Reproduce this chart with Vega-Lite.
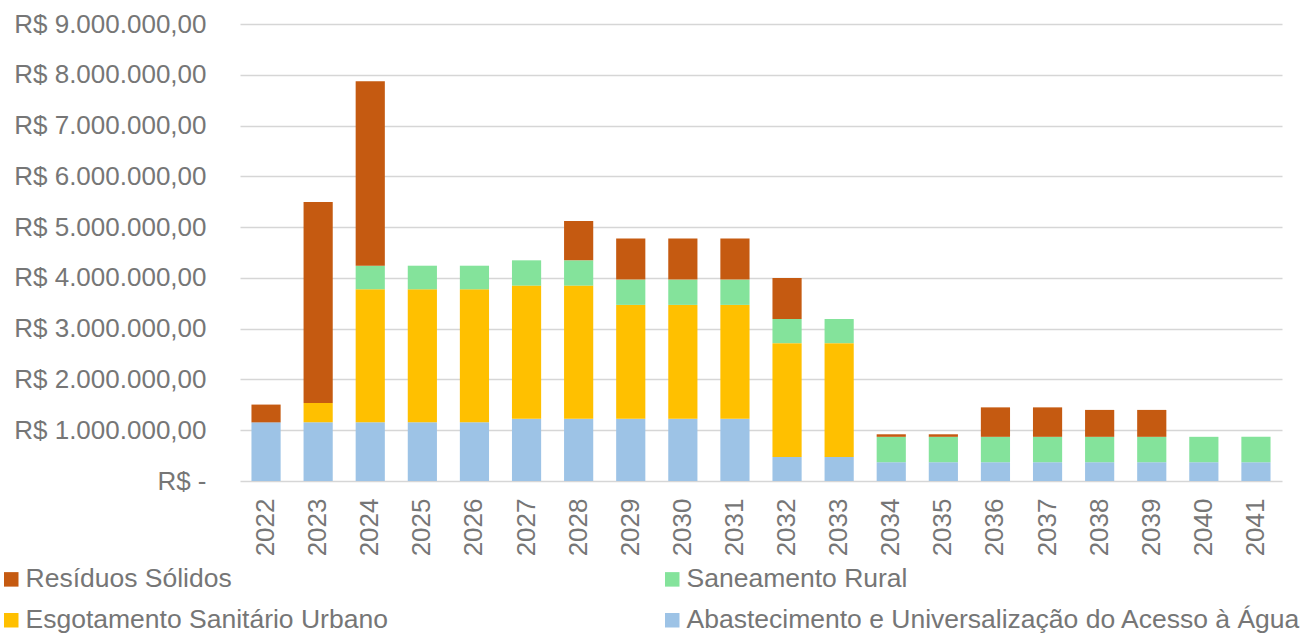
{
  "$schema": "https://vega.github.io/schema/vega-lite/v6.json",
  "width": 1042,
  "height": 457,
  "autosize": {"type": "none"},
  "padding": {"left": 240, "top": 24, "right": 24, "bottom": 152},
  "config": {
    "locale": {"number": {"decimal": ",", "thousands": ".", "grouping": [3], "currency": ["R$ ", ""]}},
    "view": {"stroke": null},
    "font": "Liberation Sans"
  },
  "data": {
    "values": [
      {"ano": "2022", "eixo": "Abastecimento e Universalização do Acesso à Água", "valor": 1155000},
      {"ano": "2022", "eixo": "Resíduos Sólidos", "valor": 350000},
      {"ano": "2023", "eixo": "Abastecimento e Universalização do Acesso à Água", "valor": 1155000},
      {"ano": "2023", "eixo": "Esgotamento Sanitário Urbano", "valor": 380000},
      {"ano": "2023", "eixo": "Resíduos Sólidos", "valor": 3960000},
      {"ano": "2024", "eixo": "Abastecimento e Universalização do Acesso à Água", "valor": 1155000},
      {"ano": "2024", "eixo": "Esgotamento Sanitário Urbano", "valor": 2620000},
      {"ano": "2024", "eixo": "Saneamento Rural", "valor": 465000},
      {"ano": "2024", "eixo": "Resíduos Sólidos", "valor": 3634000},
      {"ano": "2025", "eixo": "Abastecimento e Universalização do Acesso à Água", "valor": 1155000},
      {"ano": "2025", "eixo": "Esgotamento Sanitário Urbano", "valor": 2620000},
      {"ano": "2025", "eixo": "Saneamento Rural", "valor": 465000},
      {"ano": "2026", "eixo": "Abastecimento e Universalização do Acesso à Água", "valor": 1155000},
      {"ano": "2026", "eixo": "Esgotamento Sanitário Urbano", "valor": 2620000},
      {"ano": "2026", "eixo": "Saneamento Rural", "valor": 465000},
      {"ano": "2027", "eixo": "Abastecimento e Universalização do Acesso à Água", "valor": 1228000},
      {"ano": "2027", "eixo": "Esgotamento Sanitário Urbano", "valor": 2620000},
      {"ano": "2027", "eixo": "Saneamento Rural", "valor": 498000},
      {"ano": "2028", "eixo": "Abastecimento e Universalização do Acesso à Água", "valor": 1228000},
      {"ano": "2028", "eixo": "Esgotamento Sanitário Urbano", "valor": 2620000},
      {"ano": "2028", "eixo": "Saneamento Rural", "valor": 498000},
      {"ano": "2028", "eixo": "Resíduos Sólidos", "valor": 775000},
      {"ano": "2029", "eixo": "Abastecimento e Universalização do Acesso à Água", "valor": 1228000},
      {"ano": "2029", "eixo": "Esgotamento Sanitário Urbano", "valor": 2240000},
      {"ano": "2029", "eixo": "Saneamento Rural", "valor": 498000},
      {"ano": "2029", "eixo": "Resíduos Sólidos", "valor": 810000},
      {"ano": "2030", "eixo": "Abastecimento e Universalização do Acesso à Água", "valor": 1228000},
      {"ano": "2030", "eixo": "Esgotamento Sanitário Urbano", "valor": 2240000},
      {"ano": "2030", "eixo": "Saneamento Rural", "valor": 498000},
      {"ano": "2030", "eixo": "Resíduos Sólidos", "valor": 810000},
      {"ano": "2031", "eixo": "Abastecimento e Universalização do Acesso à Água", "valor": 1228000},
      {"ano": "2031", "eixo": "Esgotamento Sanitário Urbano", "valor": 2240000},
      {"ano": "2031", "eixo": "Saneamento Rural", "valor": 498000},
      {"ano": "2031", "eixo": "Resíduos Sólidos", "valor": 810000},
      {"ano": "2032", "eixo": "Abastecimento e Universalização do Acesso à Água", "valor": 475000},
      {"ano": "2032", "eixo": "Esgotamento Sanitário Urbano", "valor": 2240000},
      {"ano": "2032", "eixo": "Saneamento Rural", "valor": 475000},
      {"ano": "2032", "eixo": "Resíduos Sólidos", "valor": 810000},
      {"ano": "2033", "eixo": "Abastecimento e Universalização do Acesso à Água", "valor": 475000},
      {"ano": "2033", "eixo": "Esgotamento Sanitário Urbano", "valor": 2240000},
      {"ano": "2033", "eixo": "Saneamento Rural", "valor": 475000},
      {"ano": "2034", "eixo": "Abastecimento e Universalização do Acesso à Água", "valor": 370000},
      {"ano": "2034", "eixo": "Saneamento Rural", "valor": 500000},
      {"ano": "2034", "eixo": "Resíduos Sólidos", "valor": 50000},
      {"ano": "2035", "eixo": "Abastecimento e Universalização do Acesso à Água", "valor": 370000},
      {"ano": "2035", "eixo": "Saneamento Rural", "valor": 500000},
      {"ano": "2035", "eixo": "Resíduos Sólidos", "valor": 50000},
      {"ano": "2036", "eixo": "Abastecimento e Universalização do Acesso à Água", "valor": 370000},
      {"ano": "2036", "eixo": "Saneamento Rural", "valor": 500000},
      {"ano": "2036", "eixo": "Resíduos Sólidos", "valor": 580000},
      {"ano": "2037", "eixo": "Abastecimento e Universalização do Acesso à Água", "valor": 370000},
      {"ano": "2037", "eixo": "Saneamento Rural", "valor": 500000},
      {"ano": "2037", "eixo": "Resíduos Sólidos", "valor": 580000},
      {"ano": "2038", "eixo": "Abastecimento e Universalização do Acesso à Água", "valor": 370000},
      {"ano": "2038", "eixo": "Saneamento Rural", "valor": 500000},
      {"ano": "2038", "eixo": "Resíduos Sólidos", "valor": 530000},
      {"ano": "2039", "eixo": "Abastecimento e Universalização do Acesso à Água", "valor": 370000},
      {"ano": "2039", "eixo": "Saneamento Rural", "valor": 500000},
      {"ano": "2039", "eixo": "Resíduos Sólidos", "valor": 530000},
      {"ano": "2040", "eixo": "Abastecimento e Universalização do Acesso à Água", "valor": 370000},
      {"ano": "2040", "eixo": "Saneamento Rural", "valor": 500000},
      {"ano": "2041", "eixo": "Abastecimento e Universalização do Acesso à Água", "valor": 370000},
      {"ano": "2041", "eixo": "Saneamento Rural", "valor": 500000}
    ]
  },
  "transform": [
    {"calculate": "indexof(['Abastecimento e Universalização do Acesso à Água', 'Esgotamento Sanitário Urbano', 'Saneamento Rural', 'Resíduos Sólidos'], datum.eixo)", "as": "ordem"}
  ],
  "mark": {"type": "bar"},
  "encoding": {
    "x": {
      "field": "ano",
      "type": "ordinal",
      "scale": {"paddingInner": 0.44, "paddingOuter": 0.22},
      "axis": {
        "title": null,
        "labelAngle": -90,
        "labelAlign": "right",
        "labelBaseline": "middle",
        "ticks": false,
        "domain": false,
        "labelPadding": 17,
        "labelFontSize": 26,
        "labelColor": "#767676",
        "labelFont": "Liberation Sans"
      }
    },
    "y": {
      "field": "valor",
      "type": "quantitative",
      "stack": "zero",
      "scale": {"domain": [0, 9000000], "nice": false},
      "axis": {
        "title": null,
        "values": [0, 1000000, 2000000, 3000000, 4000000, 5000000, 6000000, 7000000, 8000000, 9000000],
        "labelExpr": "datum.value == 0 ? 'R$ -\u00a0' : 'R$ ' + format(datum.value, ',.2f')",
        "labelLimit": 0,
        "domain": false,
        "ticks": false,
        "grid": true,
        "gridColor": "#d6d6d6",
        "gridWidth": 1.5,
        "labelPadding": 34,
        "labelFontSize": 26,
        "labelColor": "#767676",
        "labelFont": "Liberation Sans"
      }
    },
    "order": {"field": "ordem", "type": "quantitative", "sort": "ascending"},
    "color": {
      "field": "eixo",
      "type": "nominal",
      "scale": {
        "domain": ["Resíduos Sólidos", "Saneamento Rural", "Esgotamento Sanitário Urbano", "Abastecimento e Universalização do Acesso à Água"],
        "range": ["#C55A11", "#84E39B", "#FFC000", "#9DC3E6"]
      },
      "legend": {
        "title": null,
        "orient": "none",
        "direction": "horizontal",
        "legendX": -242,
        "legendY": 542,
        "columns": 2,
        "columnPadding": 271,
        "rowPadding": 14,
        "padding": 0,
        "symbolType": "square",
        "symbolSize": 210,
        "symbolStrokeWidth": 0,
        "labelFontSize": 26.5,
        "labelOffset": 1,
        "labelColor": "#767676",
        "labelFont": "Liberation Sans",
        "labelLimit": 0
      }
    }
  }
}
